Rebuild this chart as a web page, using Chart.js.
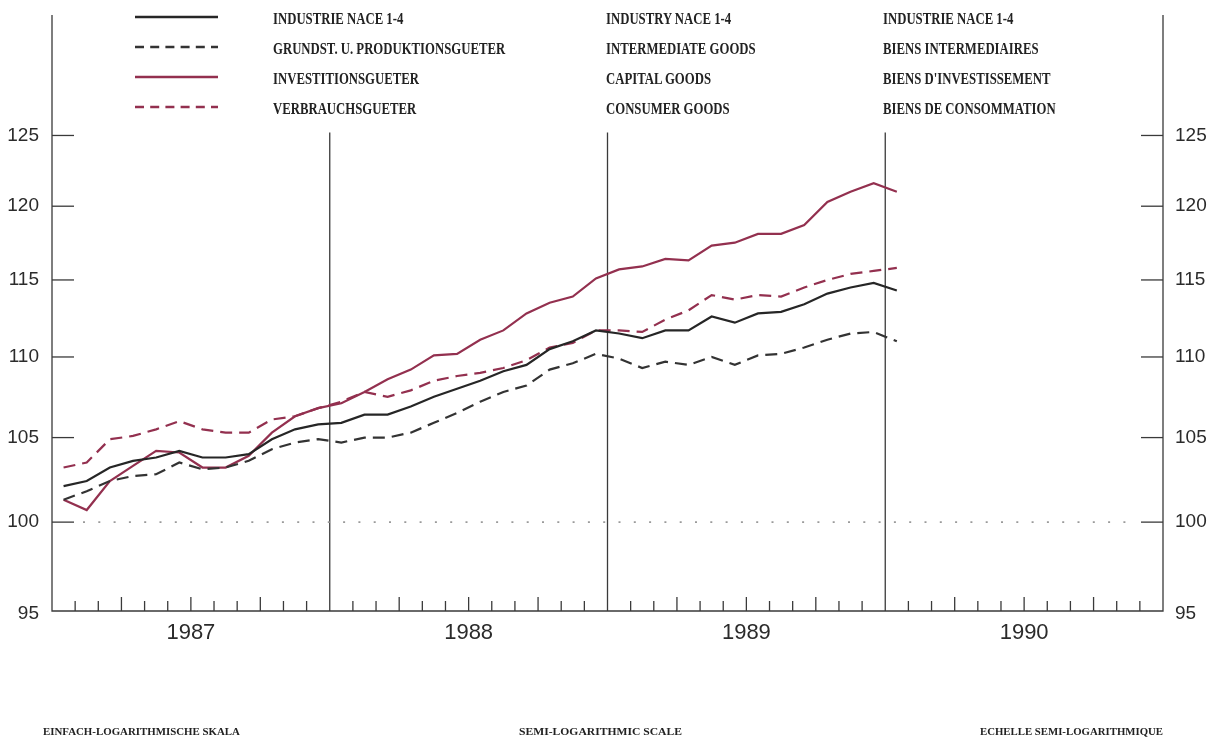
<!DOCTYPE html>
<html>
<head>
<meta charset="utf-8">
<script src="https://cdn.jsdelivr.net/npm/chart.js@4.4.1/dist/chart.umd.min.js"></script>
<style>
  html, body { margin: 0; padding: 0; background: #ffffff; }
  #wrap { position: relative; width: 1215px; height: 742px; overflow: hidden; }
  canvas { position: absolute; left: 0; top: 0; }
  .lg { position: absolute; font-family: "Liberation Serif", "DejaVu Serif", serif; font-weight: bold;
        font-size: 17px; line-height: 20px; height: 20px; color: #222222; white-space: nowrap;
        transform-origin: 0 50%; transform: scaleX(0.75); }
  .cap { position: absolute; font-family: "Liberation Serif", "DejaVu Serif", serif; font-weight: bold;
         font-size: 11px; line-height: 14px; height: 14px; color: #222222; white-space: nowrap;
         transform-origin: 0 50%; }
</style>
</head>
<body>
<div id="wrap">
  <canvas id="c" width="1215" height="742"></canvas>
</div>
<script>
// ---------- data ----------
const years = ['1987', '1988', '1989', '1990'];
const monthsPerYear = 12;
const yTicks = [95, 100, 105, 110, 115, 120, 125];

const legendDE = ['INDUSTRIE NACE 1-4', 'GRUNDST. U. PRODUKTIONSGUETER', 'INVESTITIONSGUETER', 'VERBRAUCHSGUETER'];
const legendEN = ['INDUSTRY NACE 1-4', 'INTERMEDIATE GOODS', 'CAPITAL GOODS', 'CONSUMER GOODS'];
const legendFR = ['INDUSTRIE NACE 1-4', 'BIENS INTERMEDIAIRES', "BIENS D'INVESTISSEMENT", 'BIENS DE CONSOMMATION'];
const captions = ['EINFACH-LOGARITHMISCHE SKALA', 'SEMI-LOGARITHMIC SCALE', 'ECHELLE SEMI-LOGARITHMIQUE'];

// monthly values, Jan 1987 .. Jan 1990
const industrie = [102.1,102.4,103.2,103.6,103.8,104.2,103.8,103.8,104.0,104.9,105.5,105.8,
                   105.9,106.4,106.4,106.9,107.5,108.0,108.5,109.1,109.5,110.5,111.0,111.7,
                   111.5,111.2,111.7,111.7,112.6,112.2,112.8,112.9,113.4,114.1,114.5,114.8,
                   114.3];
const grundstoffe = [101.3,101.8,102.4,102.7,102.8,103.5,103.1,103.2,103.6,104.3,104.7,104.9,
                     104.7,105.0,105.0,105.3,105.9,106.5,107.2,107.8,108.2,109.2,109.6,110.2,
                     109.9,109.3,109.7,109.5,110.0,109.5,110.1,110.2,110.6,111.1,111.5,111.6,
                     111.0];
const investition = [101.3,100.7,102.4,103.3,104.2,104.1,103.2,103.2,103.9,105.3,106.3,106.8,
                     107.1,107.8,108.6,109.2,110.1,110.2,111.1,111.7,112.8,113.5,113.9,115.1,
                     115.7,115.9,116.4,116.3,117.3,117.5,118.1,118.1,118.7,120.3,121.0,121.6,
                     121.0];
const verbrauch = [103.2,103.5,104.9,105.1,105.5,106.0,105.5,105.3,105.3,106.1,106.3,106.8,
                   107.2,107.8,107.5,107.9,108.5,108.8,109.0,109.3,109.8,110.6,110.9,111.7,
                   111.7,111.6,112.4,113.0,114.0,113.7,114.0,113.9,114.5,115.0,115.4,115.6,
                   115.8];

// category labels: one per month of the 4 years
const monthLabels = [];
years.forEach(y => { for (let m = 1; m <= monthsPerYear; m++) monthLabels.push(y + '-' + String(m).padStart(2, '0')); });

// ---------- styles ----------
const BLACK = '#262626';
const DGRAY = '#333333';
const RED = '#93304f';
const AXIS = '#3a3a3a';

const datasets = [
  { label: legendDE[0], data: industrie,   borderColor: BLACK, borderDash: [] },
  { label: legendDE[1], data: grundstoffe, borderColor: DGRAY, borderDash: [12, 7] },
  { label: legendDE[2], data: investition, borderColor: RED,   borderDash: [] },
  { label: legendDE[3], data: verbrauch,   borderColor: RED,   borderDash: [12, 7] }
].map(d => Object.assign(d, { borderWidth: 2.2, pointRadius: 0, tension: 0, fill: false }));

// ---------- decoration plugin (axes, ticks, labels, legend samples) ----------
const decor = {
  id: 'decor',
  beforeDatasetsDraw(chart) {
    const ctx = chart.ctx;
    const xs = chart.scales.x, ys = chart.scales.y;
    const ca = chart.chartArea;
    const L = ca.left, R = ca.right, T = ca.top, B = ca.bottom;
    const n = monthLabels.length;
    const boundary = k => (k <= 0) ? L : (k >= n ? R : (xs.getPixelForValue(k - 1) + xs.getPixelForValue(k)) / 2);
    ctx.save();
    ctx.strokeStyle = AXIS;
    ctx.lineWidth = 1.3;
    // frame: left, right, bottom
    ctx.beginPath();
    ctx.moveTo(L, T); ctx.lineTo(L, B); ctx.lineTo(R, B); ctx.lineTo(R, T);
    ctx.stroke();
    // year separators
    const yTop = ys.getPixelForValue(125) - 3;
    for (let yi = 1; yi < years.length; yi++) {
      const x = boundary(yi * monthsPerYear);
      ctx.beginPath(); ctx.moveTo(x, yTop); ctx.lineTo(x, B); ctx.stroke();
    }
    // month ticks (inward)
    for (let k = 1; k < n; k++) {
      if (k % monthsPerYear === 0) continue;
      const x = boundary(k);
      const h = (k % 3 === 0) ? 14 : 10;
      ctx.beginPath(); ctx.moveTo(x, B); ctx.lineTo(x, B - h); ctx.stroke();
    }
    // y ticks (inward both sides) and labels
    ctx.fillStyle = '#2b2b2b';
    ctx.font = '19px "Liberation Sans Narrow", "Liberation Sans", sans-serif';
    ctx.textBaseline = 'middle';
    yTicks.forEach(v => {
      const y = ys.getPixelForValue(v);
      if (v !== yTicks[0]) {
        ctx.beginPath(); ctx.moveTo(L, y); ctx.lineTo(L + 22, y); ctx.stroke();
        ctx.beginPath(); ctx.moveTo(R, y); ctx.lineTo(R - 22, y); ctx.stroke();
      }
      const ly = (v === yTicks[0]) ? y + 3 : y;
      ctx.textAlign = 'right'; ctx.fillText(String(v), L - 13, ly);
      ctx.textAlign = 'left';  ctx.fillText(String(v), R + 12, ly);
    });
    // dotted reference line at 100
    const y100 = ys.getPixelForValue(100);
    ctx.save();
    ctx.strokeStyle = '#9a9a9a';
    ctx.lineWidth = 1.6;
    ctx.setLineDash([2, 13.3]);
    ctx.beginPath(); ctx.moveTo(L + 31, y100); ctx.lineTo(R - 36, y100); ctx.stroke();
    ctx.restore();
    // year labels
    ctx.font = '22px "Liberation Sans", Arial, sans-serif';
    ctx.textAlign = 'center';
    years.forEach((yr, yi) => {
      const x = (boundary(yi * monthsPerYear) + boundary((yi + 1) * monthsPerYear)) / 2;
      ctx.fillText(yr, x, B + 22);
    });
    // legend samples
    chart.data.datasets.forEach((ds, i) => {
      const y = 17 + i * 30;
      ctx.save();
      ctx.strokeStyle = ds.borderColor;
      ctx.lineWidth = 2.6;
      ctx.setLineDash(ds.borderDash.length ? [9, 6.2] : []);
      ctx.beginPath(); ctx.moveTo(135, y); ctx.lineTo(218, y); ctx.stroke();
      ctx.restore();
    });
    ctx.restore();
  }
};

new Chart(document.getElementById('c'), {
  type: 'line',
  data: { labels: monthLabels, datasets },
  options: {
    responsive: false,
    animation: false,
    layout: { padding: { left: 52, right: 52, top: 15, bottom: 131 } },
    plugins: { legend: { display: false }, tooltip: { enabled: false } },
    scales: {
      x: { type: 'category', offset: true, display: false },
      y: { type: 'logarithmic', min: 95, max: 134, display: false }
    }
  },
  plugins: [decor]
});

// ---------- text overlays ----------
const wrap = document.getElementById('wrap');
function addText(cls, txt, x, yc, h) {
  const d = document.createElement('div');
  d.className = cls; d.textContent = txt;
  d.style.left = x + 'px'; d.style.top = (yc - h / 2) + 'px';
  wrap.appendChild(d);
  return d;
}
[legendDE, legendEN, legendFR].forEach((col, ci) => {
  const x = [273, 606, 883][ci];
  col.forEach((t, i) => addText('lg', t, x, 19 + i * 30, 20));
});
const capX = [43, 519, 980], capW = [197, 163, 183];
captions.forEach((t, i) => {
  const d = addText('cap', t, capX[i], 731, 14);
  const w = d.getBoundingClientRect().width;
  d.style.transform = 'scaleX(' + (capW[i] / w).toFixed(3) + ')';
});
</script>
</body>
</html>
